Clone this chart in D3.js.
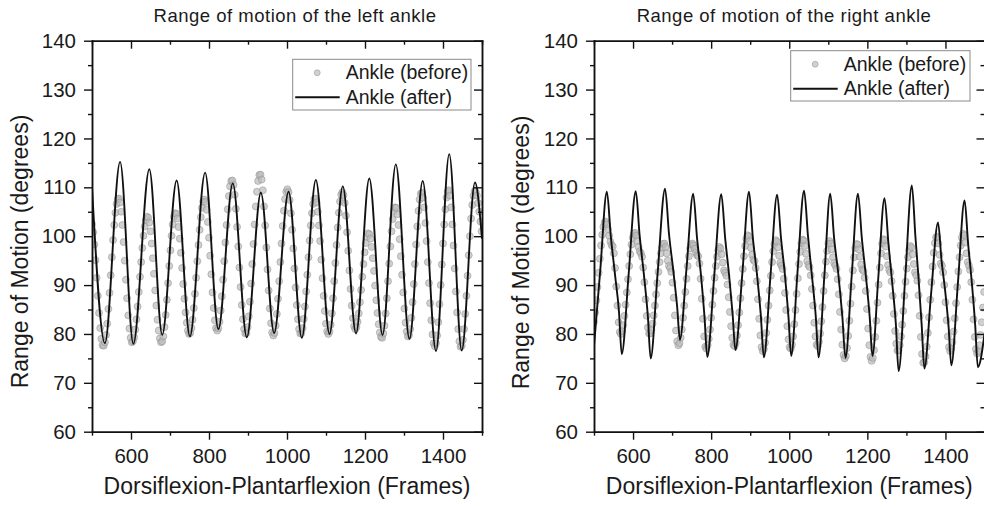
<!DOCTYPE html>
<html>
<head>
<meta charset="utf-8">
<script src="https://cdn.jsdelivr.net/npm/d3@7"></script>
<style>
	body { margin: 0; background: #fff; }
	svg { display: block; font-family: "Liberation Sans", Arial, sans-serif; }
</style>
</head>
<body>
<div id="chart"></div>
<script>

// ---- values ----
const panelTitles = ["Range of motion of the left ankle", "Range of motion of the right ankle"];
const xTitle = "Dorsiflexion-Plantarflexion (Frames)";
const yTitle = "Range of Motion (degrees)";
const legendLabels = ["Ankle (before)", "Ankle (after)"];

const frameDomain = [500, 1500];
const degreeDomain = [60, 140];
const frameTicks = [600, 800, 1000, 1200, 1400];
const frameMinorTicks = [500, 700, 900, 1100, 1300, 1500];
const degreeTicks = [60, 70, 80, 90, 100, 110, 120, 130, 140];
const degreeMinorTicks = [65, 75, 85, 95, 105, 115, 125, 135];

// "before" samples, one every 3 frames from frame 500
const beforeFirstFrame = 500;
const beforeFrameStep = 3;

const leftBefore = [
	102.5, 100.8, 98.3, 95.1, 91.5, 87.8, 84.3, 81.2, 79.0, 77.7,
	77.6, 78.3, 79.8, 82.1, 85.1, 88.4, 92.0, 95.7, 99.2, 102.3, 104.8, 106.6, 107.6,
	107.7, 106.9, 105.0, 102.3, 98.8, 95.0, 91.1, 87.3, 83.8, 81.1, 79.2, 78.3,
	78.5, 79.3, 80.9, 83.0, 85.6, 88.6, 91.7, 94.7, 97.6, 100.1, 102.0, 103.3, 104.0,
	103.8, 102.8, 101.0, 98.5, 95.5, 92.3, 88.9, 85.8, 82.9, 80.7, 79.1, 78.3,
	78.5, 79.5, 81.4, 83.9, 87.0, 90.4, 93.9, 97.1, 100.1, 102.4, 104.0, 104.7,
	104.6, 103.6, 101.9, 99.5, 96.6, 93.5, 90.2, 87.2, 84.4, 82.3, 80.7, 80.0,
	80.2, 81.2, 82.9, 85.3, 88.2, 91.5, 94.9, 98.2, 101.3, 103.9, 105.8, 107.1,
	107.5, 107.0, 105.4, 102.9, 99.7, 96.0, 92.2, 88.5, 85.3, 82.8, 81.2, 80.7,
	81.2, 82.5, 84.8, 87.7, 91.1, 94.9, 98.7, 102.3, 105.5, 108.2, 110.2, 111.3,
	111.4, 110.5, 108.5, 105.6, 101.9, 97.9, 93.6, 89.6, 85.9, 83.0, 81.0, 80.1,
	80.2, 81.4, 83.6, 86.6, 90.3, 94.3, 98.4, 102.4, 106.1, 109.1, 111.3, 112.5,
	112.6, 111.6, 109.4, 106.1, 102.2, 97.7, 93.2, 88.9, 85.2, 82.2, 80.3, 79.7,
	80.2, 81.7, 84.1, 87.2, 90.8, 94.7, 98.5, 102.1, 105.2, 107.6, 109.1, 109.6,
	109.0, 107.4, 104.7, 101.3, 97.5, 93.4, 89.5, 85.9, 83.0, 81.0, 80.1,
	80.2, 81.2, 83.1, 85.6, 88.7, 92.1, 95.7, 99.1, 102.2, 104.7, 106.6, 107.6,
	107.7, 106.9, 105.0, 102.2, 99.0, 95.2, 91.4, 87.8, 84.7, 82.1, 80.5, 80.0,
	80.5, 81.9, 84.2, 87.3, 90.8, 94.5, 98.2, 101.8, 104.8, 107.1, 108.5, 109.0,
	108.4, 106.8, 104.2, 100.8, 97.0, 93.0, 89.2, 85.8, 83.2, 81.6, 81.0,
	81.4, 82.5, 84.2, 86.5, 89.0, 91.7, 94.3, 96.7, 98.6, 99.9, 100.6,
	100.4, 99.5, 97.8, 95.5, 92.9, 89.9, 86.9, 84.3, 82.0, 80.3, 79.4,
	79.2, 80.1, 81.7, 84.2, 87.3, 90.8, 94.4, 97.9, 101.0, 103.5, 105.1, 105.9,
	105.8, 104.5, 102.3, 99.4, 95.9, 92.1, 88.5, 85.2, 82.3, 80.5, 79.5,
	79.8, 81.0, 83.3, 86.5, 90.2, 94.3, 98.3, 102.0, 105.2, 107.5, 108.7,
	108.9, 107.9, 105.9, 102.7, 99.0, 94.7, 90.4, 86.3, 82.8, 79.9, 78.1, 77.5,
	78.1, 79.7, 82.4, 86.1, 90.0, 94.2, 98.5, 102.4, 105.5, 107.9, 109.2,
	109.4, 108.3, 105.9, 102.4, 98.1, 93.4, 88.7, 84.4, 81.0, 78.5, 77.4,
	77.6, 78.8, 81.0, 84.1, 87.8, 91.9, 96.1, 100.0, 103.6, 106.4, 108.3, 109.2,
	109.1, 108.3, 106.8, 105.0, 103.0, 101.0
];

const rightBefore = [
	82.5, 84.4, 86.9, 89.6, 92.5, 95.4, 98.1, 100.3, 101.9, 102.8,
	103.0, 102.4, 101.4, 100.1, 98.9, 98.2,
	97.9, 96.5, 93.5, 89.7, 85.8, 82.4, 80.4,
	80.0, 80.6, 81.8, 83.7, 86.0, 88.5, 91.2, 93.9, 96.3, 98.3, 99.7, 100.5,
	100.7, 100.1, 99.0, 97.8, 96.9,
	96.5, 95.8, 93.6, 90.6, 87.1, 83.7, 81.3, 80.1,
	80.1, 80.8, 82.1, 83.8, 85.8, 88.1, 90.4, 92.7, 94.7, 96.5, 97.7, 98.4,
	98.5, 97.8, 96.5, 95.0, 93.9, 93.5,
	92.7, 90.5, 87.4, 83.8, 80.7, 78.5, 77.7,
	78.1, 79.2, 80.9, 83.3, 85.8, 88.6, 91.3, 93.9, 95.9, 97.5, 98.3,
	98.5, 98.1, 97.4, 96.6, 96.1,
	95.9, 94.4, 91.3, 87.2, 83.1, 79.5, 77.4,
	77.0, 77.7, 79.0, 80.9, 83.3, 86.0, 88.8, 91.5, 93.9, 95.8, 97.1, 97.8,
	97.5, 96.3, 94.6, 93.0, 92.5,
	91.9, 90.1, 87.5, 84.5, 81.6, 79.2, 77.8,
	77.5, 78.2, 79.7, 81.8, 84.4, 87.3, 90.4, 93.3, 95.9, 98.0, 99.5, 100.2,
	100.0, 99.0, 97.6, 96.2, 95.2,
	94.9, 93.5, 90.8, 87.1, 83.1, 79.7, 77.3, 76.5,
	76.9, 78.2, 80.2, 82.9, 85.8, 88.9, 91.9, 94.7, 96.9, 98.4, 99.2,
	98.9, 97.7, 96.0, 94.5, 94.0,
	93.3, 91.3, 88.4, 84.9, 81.6, 78.9, 77.3,
	77.0, 77.8, 79.5, 82.0, 84.9, 88.2, 91.4, 94.3, 96.8, 98.5, 99.3,
	99.1, 98.0, 96.4, 94.9, 94.1,
	93.7, 92.0, 89.2, 85.8, 82.3, 79.5, 77.8,
	77.5, 78.4, 80.1, 82.6, 85.5, 88.8, 92.0, 94.8, 97.0, 98.5, 99.0,
	98.5, 97.3, 95.7, 94.5, 94.0,
	93.3, 91.2, 88.1, 84.5, 80.9, 77.8, 75.7, 75.0,
	75.5, 77.1, 79.6, 82.7, 86.2, 89.7, 93.0, 95.7, 97.6, 98.4,
	98.3, 97.3, 95.8, 94.2, 93.2,
	92.9, 91.5, 88.8, 85.1, 81.1, 77.7, 75.3, 74.5,
	75.1, 76.7, 79.4, 82.7, 86.4, 90.1, 93.6, 96.5, 98.5, 99.4,
	99.2, 97.9, 95.9, 94.1, 93.1,
	92.6, 90.8, 87.8, 84.1, 80.6, 78.0, 76.6,
	76.7, 77.7, 79.5, 81.9, 84.7, 87.8, 90.7, 93.4, 95.7, 97.2, 98.0,
	97.7, 96.3, 94.3, 92.6, 92.0,
	90.9, 87.9, 83.7, 79.4, 75.9, 74.1,
	74.2, 75.4, 77.4, 80.2, 83.4, 87.0, 90.6, 93.8, 96.6, 98.6, 99.8,
	99.9, 98.5, 96.2, 94.4,
	93.9, 92.6, 90.0, 86.5, 82.8, 79.5, 77.3, 76.5,
	77.0, 78.3, 80.5, 83.2, 86.3, 89.6, 92.8, 95.7, 98.1, 99.7, 100.5,
	100.2, 98.7, 96.5, 94.7, 94.0,
	93.1, 90.6, 87.0, 83.0, 79.4, 76.9, 76.0,
	76.4, 77.7, 79.8, 82.4, 85.4, 88.6
];

// "after" curve, key points (frame / degrees)
const leftAfterFrames = [500, 533, 572, 606, 647, 680, 717, 751, 790, 824, 861, 897, 933, 967, 1004,
	1038, 1074, 1109, 1143, 1177, 1211, 1245, 1279, 1314, 1348, 1382, 1416, 1448, 1482, 1500];
const leftAfterValues = [110, 78.1, 115.2, 78, 113.7, 79.8, 111.4, 79.5, 113, 81, 110.8, 79.3, 108.9, 80.2, 109.1,
	79.2, 111.5, 80, 110.2, 80.1, 111.8, 79.8, 114.7, 79, 111.3, 76.5, 116.8, 76.6, 111, 99.5];

const rightAfterFrames = [
	500, 516, 533, 543, 554, 564, 571,
	589, 607, 617, 628, 638, 645,
	663, 682, 692, 703, 713, 720,
	737, 754, 764, 774, 783, 790,
	808, 826, 836, 846, 855, 862,
	880, 897, 907, 917, 927, 935,
	952, 969, 979, 989, 998, 1005,
	1021, 1038, 1048, 1058, 1068, 1075,
	1090, 1105, 1115, 1126, 1136, 1144,
	1160, 1176, 1186, 1196, 1206, 1213,
	1228, 1244, 1254, 1263, 1273, 1280,
	1297, 1314, 1323, 1331, 1339, 1346,
	1363, 1381, 1390, 1399, 1408, 1415,
	1432, 1449, 1458, 1467, 1476, 1483,
	1500];
const rightAfterValues = [
	77.5, 93, 109.1, 100, 92, 84.5, 75.9,
	92.5, 109.2, 100, 92, 83.5, 75.0,
	92.5, 109.7, 100.5, 93, 85.5, 78.8,
	93.5, 108.7, 99.5, 92, 83.5, 75.3,
	92, 108.6, 99.5, 92, 84, 76.7,
	92.5, 109.1, 99.5, 92.5, 84, 75.2,
	92, 108.5, 99.5, 92, 83.5, 75.5,
	92.5, 109.3, 100, 92, 83.5, 75.2,
	92, 108.7, 99.5, 92, 83.5, 75.1,
	92, 108.7, 99.5, 92, 83.5, 75.5,
	91.5, 107.8, 98.5, 91, 82, 72.4,
	91.5, 110.4, 100, 91.5, 82, 72.9,
	88, 102.8, 95, 89, 81.5, 73.6,
	90.5, 107.3, 98.5, 91, 82, 73.2,
	80];


/*
 * AnklePanel - one range-of-motion plot (scatter "before" + line "after")
 */
class AnklePanel {

	constructor(svg, config) {
		this.svg = svg;
		this.config = config;
		this.initVis();
	}

	initVis() {
		let vis = this;
		let c = vis.config;

		vis.x = d3.scaleLinear().domain(frameDomain).range([c.left, c.right]);
		vis.y = d3.scaleLinear().domain(degreeDomain).range([c.bottom, c.top]);

		vis.g = vis.svg.append("g").attr("class", "panel " + c.id);

		vis.g.append("clipPath")
			.attr("id", c.id + "-clip")
			.append("rect")
			.attr("x", c.left)
			.attr("y", c.top)
			.attr("width", c.right - c.left)
			.attr("height", c.bottom - c.top);

		vis.plot = vis.g.append("g").attr("clip-path", "url(#" + c.id + "-clip)");

		vis.wrangleData();
	}

	wrangleData() {
		let vis = this;
		let c = vis.config;

		vis.beforeData = c.before.map((v, i) => ({ frame: beforeFirstFrame + i * beforeFrameStep, value: v }));
		vis.afterData = c.afterFrames.map((f, i) => ({ frame: f, value: c.afterValues[i] }));

		vis.updateVis();
	}

	updateVis() {
		let vis = this;
		let c = vis.config;

		// before: grey circles
		vis.plot.selectAll(".before")
			.data(vis.beforeData)
			.enter().append("circle")
			.attr("class", "before")
			.attr("cx", d => vis.x(d.frame))
			.attr("cy", d => vis.y(d.value))
			.attr("r", 3.5)
			.call(styleMarker);

		// after: black line
		let line = d3.line()
			.x(d => vis.x(d.frame))
			.y(d => vis.y(d.value))
			.curve(d3.curveMonotoneX);

		vis.plot.append("path")
			.datum(vis.afterData)
			.attr("fill", "none")
			.attr("stroke", "#111")
			.attr("stroke-width", 1.9)
			.attr("stroke-linejoin", "round")
			.attr("d", line);

		// axes (ticks out on left/bottom, in on top/right)
		let axes = [
			{ axis: d3.axisBottom(vis.x).tickValues(frameTicks).tickSize(8).tickPadding(9).tickFormat(d3.format("d")), t: "translate(0," + c.bottom + ")" },
			{ axis: d3.axisBottom(vis.x).tickValues(frameMinorTicks).tickSize(4).tickFormat(""), t: "translate(0," + c.bottom + ")" },
			{ axis: d3.axisTop(vis.x).tickValues(frameTicks).tickSize(-8).tickFormat(""), t: "translate(0," + c.top + ")" },
			{ axis: d3.axisTop(vis.x).tickValues(frameMinorTicks).tickSize(-4).tickFormat(""), t: "translate(0," + c.top + ")" },
			{ axis: d3.axisLeft(vis.y).tickValues(degreeTicks).tickSize(8).tickPadding(8), t: "translate(" + c.left + ",0)" },
			{ axis: d3.axisLeft(vis.y).tickValues(degreeMinorTicks).tickSize(4).tickFormat(""), t: "translate(" + c.left + ",0)" },
			{ axis: d3.axisRight(vis.y).tickValues(degreeTicks).tickSize(-8).tickFormat(""), t: "translate(" + c.right + ",0)" },
			{ axis: d3.axisRight(vis.y).tickValues(degreeMinorTicks).tickSize(-4).tickFormat(""), t: "translate(" + c.right + ",0)" }
		];

		axes.forEach(a => {
			let ag = vis.g.append("g")
				.attr("transform", a.t)
				.call(a.axis.tickSizeOuter(0));
			ag.select(".domain").attr("stroke", "#111").attr("stroke-width", 1.5).attr("stroke-linecap", "square");
			ag.selectAll(".tick line").attr("stroke", "#111").attr("stroke-width", 1.4);
			ag.selectAll(".tick text")
				.attr("fill", "#1a1a1a")
				.style("font-family", "'Liberation Sans', Arial, sans-serif")
				.style("font-size", "20.5px");
		});

		// titles
		vis.g.append("text")
			.attr("x", c.titleX)
			.attr("y", 22)
			.attr("text-anchor", "middle")
			.attr("fill", "#1a1a1a")
			.style("font-size", "18.5px")
			.style("letter-spacing", "0.5px")
			.text(c.title);

		vis.g.append("text")
			.attr("x", (c.left + c.right) / 2)
			.attr("y", 494)
			.attr("text-anchor", "middle")
			.attr("fill", "#1a1a1a")
			.style("font-size", "23px")
			.text(xTitle);

		vis.g.append("text")
			.attr("transform", "translate(" + c.yTitleX + "," + c.yTitleY + ") rotate(-90)")
			.attr("text-anchor", "middle")
			.attr("fill", "#1a1a1a")
			.style("font-size", "23px")
			.text(yTitle);

		// legend
		let lg = vis.g.append("g")
			.attr("transform", "translate(" + c.legend.x + "," + c.legend.y + ")");

		lg.append("rect")
			.attr("width", c.legend.w)
			.attr("height", c.legend.h)
			.attr("fill", "#fff")
			.attr("stroke", "#8a8a8a")
			.attr("stroke-width", 1);

		lg.append("circle")
			.attr("cx", 24.5)
			.attr("cy", 13.5)
			.attr("r", 3)
			.call(styleMarker);

		lg.append("line")
			.attr("x1", 2.5).attr("x2", 47)
			.attr("y1", 38).attr("y2", 38)
			.attr("stroke", "#111")
			.attr("stroke-width", 1.9);

		lg.selectAll(".legend-label")
			.data(legendLabels)
			.enter().append("text")
			.attr("class", "legend-label")
			.attr("x", 53)
			.attr("y", (d, i) => 20 + i * 24.3)
			.attr("fill", "#1a1a1a")
			.style("font-size", "19.5px")
			.text(d => d);
	}
}

function styleMarker(sel) {
	sel.attr("fill", "#bcbcbc")
		.attr("fill-opacity", 0.7)
		.attr("stroke", "#8c8c8c")
		.attr("stroke-opacity", 0.6)
		.attr("stroke-width", 0.8);
}

let svg = d3.select("#chart").append("svg")
	.attr("width", 984)
	.attr("height", 506);

new AnklePanel(svg, {
	id: "left", title: panelTitles[0],
	left: 92, right: 482, top: 40.7, bottom: 431.7,
	titleX: 295, yTitleX: 28, yTitleY: 251.5,
	legend: { x: 292.7, y: 59.3, w: 178.3, h: 50.7 },
	before: leftBefore, afterFrames: leftAfterFrames, afterValues: leftAfterValues
});

new AnklePanel(svg, {
	id: "right", title: panelTitles[1],
	left: 594, right: 984.5, top: 40.7, bottom: 431.7,
	titleX: 784, yTitleX: 528.5, yTitleY: 252.5,
	legend: { x: 790.7, y: 50.7, w: 179.3, h: 50.3 },
	before: rightBefore, afterFrames: rightAfterFrames, afterValues: rightAfterValues
});

</script>
</body>
</html>
